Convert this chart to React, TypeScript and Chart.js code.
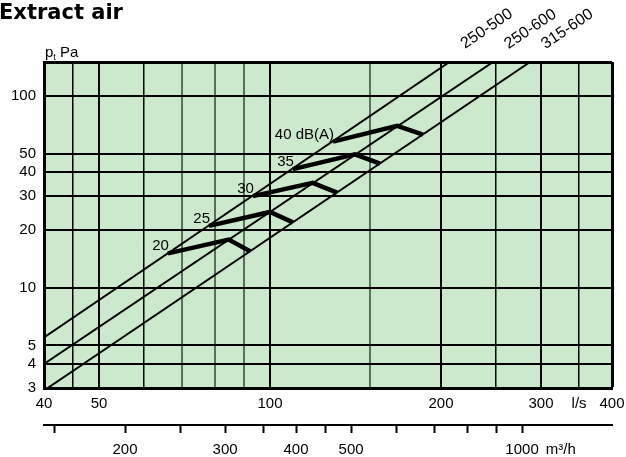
import React, { useEffect, useRef } from 'react';
import { Chart, registerables } from 'chart.js';

Chart.register(...registerables);

const TITLE = 'Extract air';
const Y_UNIT = 'Pa';

// Flow axis (l/s)
const LS_TICKS = [40, 45, 50, 60, 70, 80, 90, 100, 150, 200, 250, 300, 350, 400];
const LS_LABELED = [40, 50, 100, 200, 300, 350, 400];
const LS_LABELS = ['40', '50', '100', '200', '300', 'l/s', '400'];
const LS_MAJOR = [40, 50, 100, 200, 300, 400];
const LS_GRAY = [70, 80, 90, 150];

// Pressure axis (Pa)
const PA_TICKS = [3, 4, 5, 10, 20, 30, 40, 50, 100, 150];
const PA_LABELED = [3, 4, 5, 10, 20, 30, 40, 50, 100];

// Secondary flow axis (m3/h)
const M3H_TICKS = [150, 200, 250, 300, 350, 400, 450, 500, 600, 700, 800, 900, 1000, 1170];
const M3H_LABELED = [200, 300, 400, 500, 1000, 1170];
const M3H_LABELS = ['200', '300', '400', '500', '1000', 'm³/h'];
const M3H_UNIT_TICK = 1170;

// Duct-size characteristic lines (end points)
const DUCT_NAMES = ['250-500', '250-600', '315-600'];
const DUCT_FLOW = [[40, 207], [40, 247], [40.6, 287]];
const DUCT_PRESSURE = [[5.5, 150], [4.0, 150], [3, 150]];

// Sound level curves
const DB_LABELS = ['20', '25', '30', '35', '40 dB(A)'];
const DB_FLOW = [
  [66.1, 84.6, 92.2],
  [78.1, 100, 109.7],
  [93.3, 118.9, 131.2],
  [109.7, 141.1, 156.2],
  [129.1, 167.4, 185.9],
];
const DB_PRESSURE = [
  [15.1, 17.8, 15.5],
  [21.0, 24.8, 21.9],
  [30.0, 35.2, 31.3],
  [41.5, 49.5, 44.3],
  [57.7, 69.8, 62.8],
];

const FONT_FAMILY = '"Liberation Sans", Arial, sans-serif';

const decor = {
  id: 'decor',
  beforeDraw(chart: any) {
    const { ctx, chartArea: a } = chart;
    ctx.save();
    ctx.fillStyle = '#cde9cd';
    ctx.fillRect(a.left, a.top, a.right - a.left, a.bottom - a.top);
    ctx.restore();
  },
  afterDraw(chart: any) {
    const ctx = chart.ctx as CanvasRenderingContext2D;
    const xs = chart.scales.x;
    const ys = chart.scales.y;
    const a = chart.chartArea;
    ctx.save();
    ctx.fillStyle = '#000';
    ctx.textBaseline = 'alphabetic';
    ctx.textAlign = 'left';
    ctx.font = 'bold 21px "DejaVu Sans", sans-serif';
    ctx.fillText(TITLE, -1, 19);

    // p_t Pa
    ctx.font = '15px ' + FONT_FAMILY;
    ctx.fillText('p', a.left + 1, 57);
    const pw = ctx.measureText('p').width;
    ctx.font = '9px ' + FONT_FAMILY;
    ctx.fillText('t', a.left + 1 + pw, 60);
    const tw = ctx.measureText('t').width;
    ctx.font = '15px ' + FONT_FAMILY;
    ctx.fillText(' ' + Y_UNIT, a.left + 1 + pw + tw, 57);

    // dB labels
    ctx.textAlign = 'right';
    DB_LABELS.forEach((t, i) => {
      const px = xs.getPixelForValue(DB_FLOW[i][0]);
      const py = ys.getPixelForValue(DB_PRESSURE[i][0]);
      ctx.fillText(t, px + 1, py - 3);
    });

    // duct labels
    ctx.textAlign = 'left';
    ctx.font = '16px ' + FONT_FAMILY;
    DUCT_NAMES.forEach((n, i) => {
      const x0 = xs.getPixelForValue(DUCT_FLOW[i][0]);
      const y0 = ys.getPixelForValue(DUCT_PRESSURE[i][0]);
      const x1 = xs.getPixelForValue(DUCT_FLOW[i][1]);
      const y1 = ys.getPixelForValue(DUCT_PRESSURE[i][1]);
      const ang = Math.atan2(y1 - y0, x1 - x0);
      ctx.save();
      ctx.translate(x1, y1);
      ctx.rotate(ang);
      ctx.fillText(n, 20, -2);
      ctx.restore();
    });
    ctx.restore();
  },
};

export default function App() {
  const ref = useRef<HTMLCanvasElement>(null);
  useEffect(() => {
    const datasets: any[] = [];
    DUCT_NAMES.forEach((n, i) => {
      datasets.push({
        label: n,
        data: DUCT_FLOW[i].map((f, j) => ({ x: f, y: DUCT_PRESSURE[i][j] })),
        borderColor: '#000',
        borderWidth: 2,
        pointRadius: 0,
        fill: false,
      });
    });
    DB_LABELS.forEach((n, i) => {
      datasets.push({
        label: n,
        data: DB_FLOW[i].map((f, j) => ({ x: f, y: DB_PRESSURE[i][j] })),
        borderColor: '#000',
        borderWidth: 4.5,
        borderJoinStyle: 'miter',
        pointRadius: 0,
        fill: false,
      });
    });

    const tickFont = { family: FONT_FAMILY, size: 15 };

    const chart = new Chart(ref.current!, {
      type: 'line',
      data: { datasets },
      plugins: [decor],
      options: {
        responsive: false,
        devicePixelRatio: 1,
        animation: false,
        layout: { padding: { left: 0, right: 14, top: 62, bottom: 0 } },
        plugins: { legend: { display: false }, tooltip: { enabled: false } },
        scales: {
          x: {
            type: 'logarithmic',
            position: 'bottom',
            weight: 0,
            min: 40,
            max: 400,
            afterBuildTicks: (s: any) => {
              s.ticks = LS_TICKS.map((v) => ({ value: v }));
            },
            afterFit: (s: any) => {
              s.height = 37;
              s.paddingLeft = 0;
              s.paddingRight = 0;
            },
            ticks: {
              autoSkip: false,
              maxRotation: 0,
              padding: 7,
              color: '#000',
              font: tickFont,
              callback: (v: any) => {
                const k = LS_LABELED.indexOf(Number(v));
                return k >= 0 ? LS_LABELS[k] : '';
              },
            },
            grid: {
              drawTicks: false,
              color: (c: any) => (c.tick && LS_GRAY.includes(c.tick.value) ? '#5d6e5d' : '#000'),
              lineWidth: (c: any) => {
                const v = c.tick ? c.tick.value : 0;
                if (v === 400) return 3;
                if (LS_MAJOR.includes(v)) return 2;
                if (LS_GRAY.includes(v)) return 2;
                return 1.5;
              },
            },
            border: { display: true, color: '#000', width: 3 },
          },
          x2: {
            type: 'logarithmic',
            position: 'bottom',
            weight: 1,
            min: 144,
            max: 1440,
            afterBuildTicks: (s: any) => {
              s.ticks = M3H_TICKS.map((v) => ({ value: v }));
            },
            afterFit: (s: any) => {
              s.height = 32;
              s.paddingLeft = 0;
              s.paddingRight = 0;
            },
            ticks: {
              autoSkip: false,
              maxRotation: 0,
              padding: 8,
              color: '#000',
              font: tickFont,
              callback: (v: any) => {
                const k = M3H_LABELED.indexOf(Number(v));
                return k >= 0 ? M3H_LABELS[k] : '';
              },
            },
            grid: {
              drawOnChartArea: false,
              drawTicks: true,
              tickLength: 8,
              tickWidth: 2,
              tickColor: (c: any) => (c.tick && c.tick.value === M3H_UNIT_TICK ? 'rgba(0,0,0,0)' : '#000'),
            },
            border: { display: true, color: '#000', width: 2 },
          },
          y: {
            type: 'logarithmic',
            position: 'left',
            min: 3,
            max: 150,
            afterBuildTicks: (s: any) => {
              s.ticks = PA_TICKS.map((v) => ({ value: v }));
            },
            afterFit: (s: any) => {
              s.width = 44;
              s.paddingTop = 0;
              s.paddingBottom = 0;
            },
            ticks: {
              autoSkip: false,
              padding: 8,
              color: '#000',
              font: tickFont,
              callback: (v: any) => (PA_LABELED.includes(Number(v)) ? String(v) : ''),
            },
            grid: {
              drawTicks: false,
              color: '#000',
              lineWidth: (c: any) => (c.tick && c.tick.value === 150 ? 3 : 2),
            },
            border: { display: true, color: '#000', width: 3 },
          },
        },
      } as any,
    });
    return () => chart.destroy();
  }, []);

  return (
    <div style={{ position: 'fixed', left: 0, top: 0, width: 626, height: 457, background: '#fff' }}>
      <canvas ref={ref} width={626} height={457} style={{ display: 'block', width: 626, height: 457 }} />
    </div>
  );
}
